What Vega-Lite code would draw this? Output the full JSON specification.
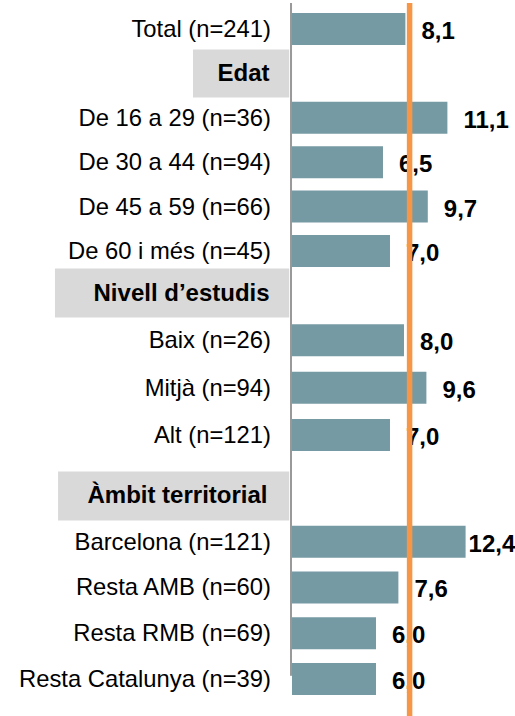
{
  "$schema": "https://vega.github.io/schema/vega-lite/v6.json",
  "padding": 0,
  "spacing": 0,
  "bounds": "flush",
  "background": "white",
  "config": {
    "view": {"stroke": null},
    "locale": {"number": {"decimal": ",", "thousands": ".", "grouping": [3], "currency": ["", " €"]}},
    "text": {"font": "Liberation Sans"}
  },
  "datasets": {
    "rows": [
      {"cat": "Total (n=241)", "value": 8.1, "type": "item", "panel": 1},
      {"cat": "Edat", "value": null, "type": "header", "panel": 1},
      {"cat": "De 16 a 29 (n=36)", "value": 11.1, "type": "item", "panel": 1},
      {"cat": "De 30 a 44 (n=94)", "value": 6.5, "type": "item", "panel": 1},
      {"cat": "De 45 a 59 (n=66)", "value": 9.7, "type": "item", "panel": 1},
      {"cat": "De 60 i més (n=45)", "value": 7.0, "type": "item", "panel": 1},
      {"cat": "Nivell d’estudis", "value": null, "type": "header", "panel": 2},
      {"cat": "Baix (n=26)", "value": 8.0, "type": "item", "panel": 2},
      {"cat": "Mitjà (n=94)", "value": 9.6, "type": "item", "panel": 2},
      {"cat": "Alt (n=121)", "value": 7.0, "type": "item", "panel": 2},
      {"cat": "Àmbit territorial", "value": null, "type": "header", "panel": 3},
      {"cat": "Barcelona (n=121)", "value": 12.4, "type": "item", "panel": 3},
      {"cat": "Resta AMB (n=60)", "value": 7.6, "type": "item", "panel": 3},
      {"cat": "Resta RMB (n=69)", "value": 6.0, "type": "item", "panel": 3},
      {"cat": "Resta Catalunya (n=39)", "value": 6.0, "type": "item", "panel": 3}
    ],
    "ref": [{"mitjana": 8.4}]
  },
  "vconcat": [
    {
      "width": 515, "height": 265,
      "layer": [
        {"data": {"name": "rows"}, "transform": [{"filter": "datum.panel == 1 && datum.type == 'header'"}],
         "mark": {"type": "rect", "color": "#D9D9D9", "height": {"band": 1.5}},
         "encoding": {
           "y": {"field": "cat", "type": "nominal", "axis": null, "scale": {"domain": ["Total (n=241)", "Edat", "De 16 a 29 (n=36)", "De 30 a 44 (n=94)", "De 45 a 59 (n=66)", "De 60 i més (n=45)"], "paddingInner": 0.2793, "paddingOuter": 0.1239, "align": 0.909}},
           "x": {"datum": -7.07, "type": "quantitative", "axis": null, "scale": {"domain": [-20.857, 15.929], "nice": false, "zero": false}},
           "x2": {"datum": -0.2}}},
        {"data": {"name": "rows"}, "transform": [{"filter": "datum.panel == 1 && datum.type == 'header'"}],
         "mark": {"type": "text", "align": "right", "baseline": "middle", "fontSize": 24, "fontWeight": "bold", "dy": 1, "color": "#000"},
         "encoding": {
           "y": {"field": "cat", "type": "nominal", "axis": null},
           "x": {"datum": -1.6, "type": "quantitative", "axis": null},
           "text": {"field": "cat"}}},
        {"data": {"name": "rows"}, "transform": [{"filter": "datum.panel == 1 && datum.type == 'item'"}],
         "mark": {"type": "text", "align": "right", "baseline": "middle", "fontSize": 23.8, "dy": 1, "color": "#000"},
         "encoding": {
           "y": {"field": "cat", "type": "nominal", "axis": null},
           "x": {"datum": -1.5, "type": "quantitative", "axis": null},
           "text": {"field": "cat"}}},
        {"data": {"name": "ref"},
         "mark": {"type": "rule", "color": "#999999", "strokeWidth": 2},
         "encoding": {"x": {"datum": -0.07, "type": "quantitative", "axis": null}}},
        {"data": {"name": "rows"}, "transform": [{"filter": "datum.panel == 1 && datum.type == 'item'"}],
         "mark": {"type": "bar", "color": "#769AA3"},
         "encoding": {
           "y": {"field": "cat", "type": "nominal", "axis": null},
           "x": {"field": "value", "type": "quantitative", "axis": null},
           "x2": {"datum": 0}}},
        {"data": {"name": "rows"}, "transform": [{"filter": "datum.panel == 1 && datum.type == 'item'"}],
         "mark": {"type": "text", "align": "left", "baseline": "middle", "fontSize": 24, "fontWeight": "bold", "dy": 3, "dx": {"expr": "datum.value > 12 ? 3 : 16"}, "color": "#000"},
         "encoding": {
           "y": {"field": "cat", "type": "nominal", "axis": null},
           "x": {"field": "value", "type": "quantitative", "axis": null},
           "text": {"field": "value", "type": "quantitative", "format": ".1f"}}},
        {"data": {"name": "ref"},
         "mark": {"type": "rule", "color": "#F79646", "strokeWidth": 5.5},
         "encoding": {"x": {"field": "mitjana", "type": "quantitative", "axis": null}}}
      ]
    },
    {
      "width": 515, "height": 195,
      "layer": [
        {"data": {"name": "rows"}, "transform": [{"filter": "datum.panel == 2 && datum.type == 'header'"}],
         "mark": {"type": "rect", "color": "#D9D9D9", "height": {"band": 1.53}},
         "encoding": {
           "y": {"field": "cat", "type": "nominal", "axis": null, "scale": {"domain": ["Nivell d’estudis", "Baix (n=26)", "Mitjà (n=94)", "Alt (n=121)"], "paddingInner": 0.3239, "paddingOuter": 0.2218, "align": 0.4286}},
           "x": {"datum": -16.93, "type": "quantitative", "axis": null, "scale": {"domain": [-20.857, 15.929], "nice": false, "zero": false}},
           "x2": {"datum": -0.2}}},
        {"data": {"name": "rows"}, "transform": [{"filter": "datum.panel == 2 && datum.type == 'header'"}],
         "mark": {"type": "text", "align": "right", "baseline": "middle", "fontSize": 24, "fontWeight": "bold", "dy": 1, "color": "#000"},
         "encoding": {
           "y": {"field": "cat", "type": "nominal", "axis": null},
           "x": {"datum": -1.6, "type": "quantitative", "axis": null},
           "text": {"field": "cat"}}},
        {"data": {"name": "rows"}, "transform": [{"filter": "datum.panel == 2 && datum.type == 'item'"}],
         "mark": {"type": "text", "align": "right", "baseline": "middle", "fontSize": 23.8, "dy": 1, "color": "#000"},
         "encoding": {
           "y": {"field": "cat", "type": "nominal", "axis": null},
           "x": {"datum": -1.5, "type": "quantitative", "axis": null},
           "text": {"field": "cat"}}},
        {"data": {"name": "ref"},
         "mark": {"type": "rule", "color": "#999999", "strokeWidth": 2},
         "encoding": {"x": {"datum": -0.07, "type": "quantitative", "axis": null}}},
        {"data": {"name": "rows"}, "transform": [{"filter": "datum.panel == 2 && datum.type == 'item'"}],
         "mark": {"type": "bar", "color": "#769AA3"},
         "encoding": {
           "y": {"field": "cat", "type": "nominal", "axis": null},
           "x": {"field": "value", "type": "quantitative", "axis": null},
           "x2": {"datum": 0}}},
        {"data": {"name": "rows"}, "transform": [{"filter": "datum.panel == 2 && datum.type == 'item'"}],
         "mark": {"type": "text", "align": "left", "baseline": "middle", "fontSize": 24, "fontWeight": "bold", "dy": 3, "dx": {"expr": "datum.value > 12 ? 3 : 16"}, "color": "#000"},
         "encoding": {
           "y": {"field": "cat", "type": "nominal", "axis": null},
           "x": {"field": "value", "type": "quantitative", "axis": null},
           "text": {"field": "value", "type": "quantitative", "format": ".1f"}}},
        {"data": {"name": "ref"},
         "mark": {"type": "rule", "color": "#F79646", "strokeWidth": 5.5},
         "encoding": {"x": {"field": "mitjana", "type": "quantitative", "axis": null}}}
      ]
    },
    {
      "width": 515, "height": 256,
      "layer": [
        {"data": {"name": "rows"}, "transform": [{"filter": "datum.panel == 3 && datum.type == 'header'"}],
         "mark": {"type": "rect", "color": "#D9D9D9", "height": {"band": 1.53}},
         "encoding": {
           "y": {"field": "cat", "type": "nominal", "axis": null, "scale": {"domain": ["Àmbit territorial", "Barcelona (n=121)", "Resta AMB (n=60)", "Resta RMB (n=69)", "Resta Catalunya (n=39)"], "paddingInner": 0.3005, "paddingOuter": 0.448, "align": 0.4146}},
           "x": {"datum": -16.71, "type": "quantitative", "axis": null, "scale": {"domain": [-20.857, 15.929], "nice": false, "zero": false}},
           "x2": {"datum": -0.2}}},
        {"data": {"name": "rows"}, "transform": [{"filter": "datum.panel == 3 && datum.type == 'header'"}],
         "mark": {"type": "text", "align": "right", "baseline": "middle", "fontSize": 24, "fontWeight": "bold", "dy": 0, "color": "#000"},
         "encoding": {
           "y": {"field": "cat", "type": "nominal", "axis": null},
           "x": {"datum": -1.75, "type": "quantitative", "axis": null},
           "text": {"field": "cat"}}},
        {"data": {"name": "rows"}, "transform": [{"filter": "datum.panel == 3 && datum.type == 'item'"}],
         "mark": {"type": "text", "align": "right", "baseline": "middle", "fontSize": 23.8, "dy": 1, "color": "#000"},
         "encoding": {
           "y": {"field": "cat", "type": "nominal", "axis": null},
           "x": {"datum": -1.5, "type": "quantitative", "axis": null},
           "text": {"field": "cat"}}},
        {"data": {"name": "ref"},
         "mark": {"type": "rule", "color": "#999999", "strokeWidth": 2},
         "encoding": {
           "x": {"datum": -0.07, "type": "quantitative", "axis": null},
           "y": {"datum": "Àmbit territorial", "type": "nominal", "axis": null, "bandPosition": -0.6},
           "y2": {"datum": "Resta Catalunya (n=39)", "bandPosition": 0.4}}},
        {"data": {"name": "rows"}, "transform": [{"filter": "datum.panel == 3 && datum.type == 'item'"}],
         "mark": {"type": "bar", "color": "#769AA3"},
         "encoding": {
           "y": {"field": "cat", "type": "nominal", "axis": null},
           "x": {"field": "value", "type": "quantitative", "axis": null},
           "x2": {"datum": 0}}},
        {"data": {"name": "rows"}, "transform": [{"filter": "datum.panel == 3 && datum.type == 'item'"}],
         "mark": {"type": "text", "align": "left", "baseline": "middle", "fontSize": 24, "fontWeight": "bold", "dy": 3, "dx": {"expr": "datum.value > 12 ? 3 : 16"}, "color": "#000"},
         "encoding": {
           "y": {"field": "cat", "type": "nominal", "axis": null},
           "x": {"field": "value", "type": "quantitative", "axis": null},
           "text": {"field": "value", "type": "quantitative", "format": ".1f"}}},
        {"data": {"name": "ref"},
         "mark": {"type": "rule", "color": "#F79646", "strokeWidth": 5.5},
         "encoding": {"x": {"field": "mitjana", "type": "quantitative", "axis": null}}}
      ]
    }
  ]
}
